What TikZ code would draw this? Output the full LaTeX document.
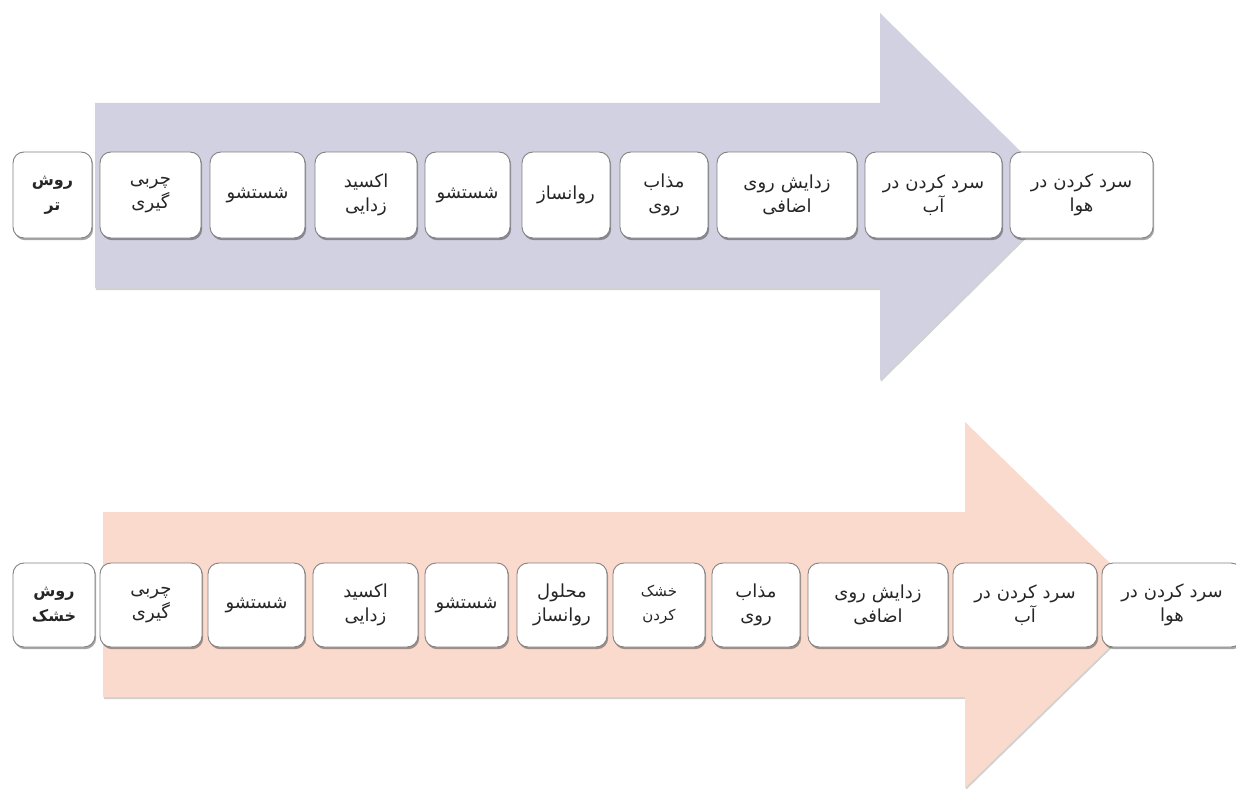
\documentclass[tikz,border=0pt]{standalone}
\usepackage{fontspec}
\usetikzlibrary{shadows}
\TeXXeTstate=1
\newfontfamily\arabicfont[Script=Arabic]{DejaVu Sans}
\definecolor{lav}{RGB}{210,209,226}
\definecolor{peach}{RGB}{250,218,205}
\definecolor{boxline}{RGB}{130,130,130}
\newcommand{\rl}[1]{\beginR #1\endR}
\tikzset{
  stepbox/.style={draw=boxline, line width=0.9pt, fill=white, rounded corners=11pt,
    inner sep=1pt, align=center, font=\arabicfont\fontsize{18}{24}\selectfont,
    text=black!85,
    drop shadow={shadow xshift=1.2pt, shadow yshift=-2.2pt, fill=black, opacity=0.35}},
  bigarrow/.style={draw=none, drop shadow={shadow xshift=0.8pt, shadow yshift=-2pt, fill=black, opacity=0.18}},
  headbox/.style={stepbox, font=\arabicfont\bfseries\fontsize{16}{25}\selectfont}
}
\newcommand{\bx}[6]{% style, name, cx, cy, w, h
  \node[#1, minimum width=#5pt, minimum height=#6pt, text width=#5pt-4pt] (#2) at (#3,#4)}
\begin{document}
\begin{tikzpicture}[x=1pt,y=-1pt]
\useasboundingbox (0,0) rectangle (1236,789);
\clip (0,0) rectangle (1236,789);
\fill[white] (0,0) rectangle (1236,789);
% top arrow
\fill[lav, bigarrow] (95,103) -- (880,103) -- (880,13) -- (1066,196) -- (880,380) -- (880,288) -- (95,288) -- cycle;
% bottom arrow
\fill[peach, bigarrow] (103,512) -- (965,512) -- (965,422) -- (1153,605) -- (965,788) -- (965,697) -- (103,697) -- cycle;
% top row
\bx{headbox}{t0}{52.5}{195}{79}{86}{\rl{روش}\\\rl{تر}};
\bx{stepbox}{t1}{150.5}{195}{101}{86}{\rl{چربی}\\\rl{گیری}};
\bx{stepbox}{t2}{257.5}{195}{95}{86}{\rl{شستشو}};
\bx{stepbox}{t3}{366}{195}{102}{86}{\rl{اکسید}\\\rl{زدایی}};
\bx{stepbox}{t4}{467.5}{195}{85}{86}{\rl{شستشو}};
\bx{stepbox}{t5}{566}{195}{88}{86}{\rl{روانساز}};
\bx{stepbox}{t6}{664}{195}{88}{86}{\rl{مذاب}\\\rl{روی}};
\bx{stepbox}{t7}{787}{195}{140}{86}{\rl{زدایش روی}\\\rl{اضافی}};
\bx{stepbox}{t8}{933.5}{195}{137}{86}{\rl{سرد کردن در}\\\rl{آب}};
\bx{stepbox}{t9}{1081.5}{195}{143}{86}{\rl{سرد کردن در}\\\rl{هوا}};
% bottom row
\bx{headbox}{b0}{54}{605}{82}{84}{\rl{روش}\\\rl{خشک}};
\bx{stepbox}{b1}{151}{605}{102}{84}{\rl{چربی}\\\rl{گیری}};
\bx{stepbox}{b2}{256.5}{605}{97}{84}{\rl{شستشو}};
\bx{stepbox}{b3}{365.5}{605}{105}{84}{\rl{اکسید}\\\rl{زدایی}};
\bx{stepbox}{b4}{466.5}{605}{83}{84}{\rl{شستشو}};
\bx{stepbox}{b5}{562}{605}{90}{84}{\rl{محلول}\\\rl{روانساز}};
\bx{stepbox}{b6}{659}{605}{92}{84}{\fontsize{15}{22}\selectfont\rl{خشک}\\\rl{کردن}};
\bx{stepbox}{b7}{756}{605}{88}{84}{\rl{مذاب}\\\rl{روی}};
\bx{stepbox}{b8}{878}{605}{140}{84}{\rl{زدایش روی}\\\rl{اضافی}};
\bx{stepbox}{b9}{1025}{605}{144}{84}{\rl{سرد کردن در}\\\rl{آب}};
\bx{stepbox}{b10}{1172}{605}{140}{84}{\rl{سرد کردن در}\\\rl{هوا}};
\end{tikzpicture}
\end{document}
